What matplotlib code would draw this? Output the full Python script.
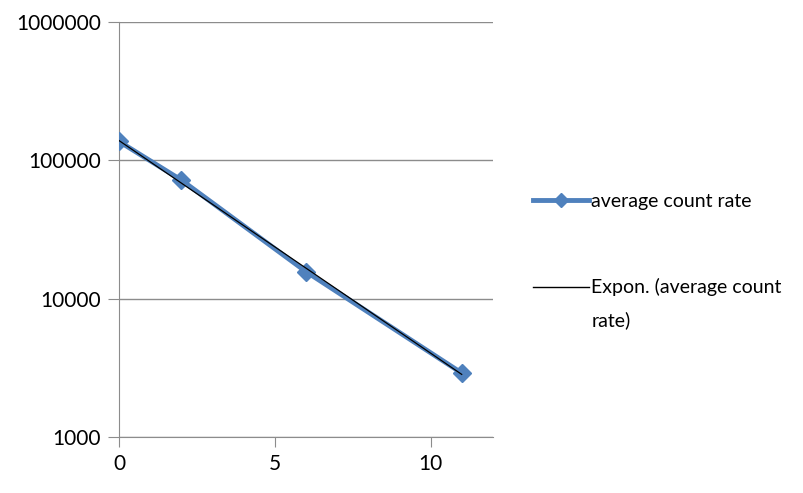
import numpy as np
import matplotlib
matplotlib.use('Agg')
import matplotlib.pyplot as plt
from matplotlib.lines import Line2D
from matplotlib.legend_handler import HandlerLine2D
from matplotlib.ticker import FixedLocator, FixedFormatter

# data
time = [0, 2, 6, 11]
count_rate = [137000, 72000, 15700, 2900]
y_ticks = [1000, 10000, 100000, 1000000]
y_labels = ['1000', '10000', '100000', '1000000']
x_ticks = [0, 5, 10]

plt.rcParams['font.family'] = ['Lato', 'DejaVu Sans']


class HandlerFirstLine(HandlerLine2D):
    # put the handle level with the first line of a two-line label
    def create_artists(self, legend, orig_handle, xdescent, ydescent,
                       width, height, fontsize, trans):
        return super().create_artists(legend, orig_handle, xdescent,
                                      ydescent - 1.75 * fontsize, width,
                                      height, fontsize, trans)


fig = plt.figure(figsize=(8.04, 4.93), dpi=100)
ax = fig.add_axes([0.148, 0.1136, 0.465, 0.8418])

blue = '#4F81BD'
grid_col = '#8C8C8C'

ax.plot(time, count_rate, color=blue, lw=3.5, marker='D', markersize=9,
        label='average count rate', zorder=3)

# exponential trend line, fitted to the data
k, b = np.polyfit(time, np.log(count_rate), 1)
xf = np.linspace(min(time), max(time), 50)
ax.plot(xf, np.exp(b + k * xf), color='black', lw=0.9, zorder=4,
        label='Expon. (average count\nrate)')

ax.set_yscale('log')
ax.set_ylim(1000, 1000000)
ax.set_xlim(0, 12)
ax.yaxis.set_major_locator(FixedLocator(y_ticks))
ax.yaxis.set_major_formatter(FixedFormatter(y_labels))
ax.yaxis.set_minor_locator(FixedLocator([]))
ax.set_xticks(x_ticks)
ax.grid(True, axis='y', color=grid_col, lw=1)

for s in ['top', 'right']:
    ax.spines[s].set_visible(False)
for s in ['left', 'bottom']:
    ax.spines[s].set_color(grid_col)
ax.tick_params(axis='y', length=8, color=grid_col, labelsize=15, pad=5)
ax.tick_params(axis='x', length=7, color=grid_col, labelsize=15, pad=5)

trend_handle = Line2D([], [], color='black', lw=1)
handles = [Line2D([], [], color=blue, lw=3.5, marker='D', markersize=7),
           trend_handle]
leg = fig.legend(handles, ['average count rate', 'Expon. (average count\nrate)'],
                 loc='upper left', bbox_to_anchor=(0.663, 0.608), frameon=False,
                 fontsize=14, handlelength=2.9, handletextpad=0.1,
                 labelspacing=3.5, borderpad=0, borderaxespad=0,
                 handler_map={trend_handle: HandlerFirstLine()})
for t in leg.get_texts():
    t.set_linespacing(2.0)

fig.savefig('out.png', dpi=100)
